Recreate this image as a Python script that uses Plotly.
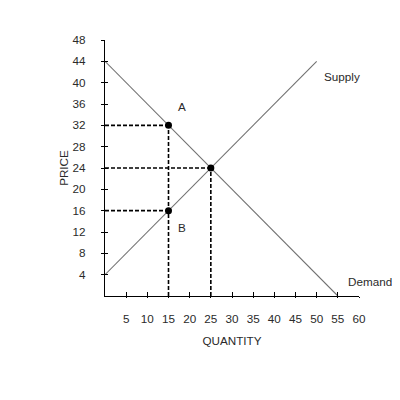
import plotly.graph_objects as go

# Data
supply_q = [0, 50]
supply_p = [4, 44]
demand_q = [0, 55]
demand_p = [44, 0]
points_q = [15, 25, 15]
points_p = [32, 24, 16]
x_ticks = [5, 10, 15, 20, 25, 30, 35, 40, 45, 50, 55, 60]
y_ticks = [4, 8, 12, 16, 20, 24, 28, 32, 36, 40, 44, 48]

fig = go.Figure()
dash = dict(color="black", width=1.6, dash="4px,2px")
for q, p in zip(points_q, points_p):
    fig.add_trace(go.Scatter(x=[0, q], y=[p, p], mode="lines", line=dash, hoverinfo="skip"))
fig.add_trace(go.Scatter(x=[15, 15], y=[0, 32], mode="lines", line=dash, hoverinfo="skip"))
fig.add_trace(go.Scatter(x=[25, 25], y=[0, 24], mode="lines", line=dash, hoverinfo="skip"))

fig.add_trace(go.Scatter(x=supply_q, y=supply_p, mode="lines", line=dict(color="#707070", width=1.1)))
fig.add_trace(go.Scatter(x=demand_q, y=demand_p, mode="lines", line=dict(color="#707070", width=1.1)))
fig.add_trace(go.Scatter(x=points_q, y=points_p, mode="markers",
                         marker=dict(color="black", size=7)))

font = dict(family="Liberation Sans, Arial", size=11.7, color="#2a2a2a")
ann = [
    dict(x=56, y=41.1, text="Supply"),
    dict(x=62.6, y=2.8, text="Demand"),
    dict(x=18.2, y=35.5, text="A"),
    dict(x=18.2, y=12.9, text="B"),
]
for a in ann:
    fig.add_annotation(x=a["x"] / 60, y=a["y"] / 48, text=a["text"], showarrow=False,
                       font=font, xref="paper", yref="paper",
                       xanchor="center", yanchor="middle")

fig.update_layout(
    width=400, height=400,
    margin=dict(l=97, r=49, t=32, b=112),
    paper_bgcolor="white", plot_bgcolor="white",
    showlegend=False,
    font=font,
    xaxis=dict(range=[0, 60], tickvals=x_ticks, ticktext=[str(v) for v in x_ticks],
               showgrid=False, zeroline=False, showline=True, linecolor="black", linewidth=1.3,
               ticks="outside", ticklen=1, tickcolor="black", tickwidth=1.3,
               ticklabelstandoff=11,
               title=dict(text="QUANTITY", font=font, standoff=12)),
    yaxis=dict(range=[0, 48], tickvals=y_ticks, ticktext=[str(v) for v in y_ticks],
               showgrid=False, zeroline=False, showline=True, linecolor="black", linewidth=1.3,
               ticks="outside", ticklen=3, tickcolor="black", tickwidth=1.3,
               ticklabelstandoff=13,
               title=dict(text="PRICE", font=font, standoff=1)),
    xaxis2=dict(range=[0, 60], tickvals=x_ticks, showticklabels=False, overlaying="x",
                showgrid=False, zeroline=False, showline=False,
                ticks="inside", ticklen=4, tickcolor="black", tickwidth=1.3),
    yaxis2=dict(range=[0, 48], tickvals=y_ticks, showticklabels=False, overlaying="y",
                showgrid=False, zeroline=False, showline=False,
                ticks="inside", ticklen=3, tickcolor="black", tickwidth=1.3),
)
fig.add_trace(go.Scatter(x=[None], y=[None], xaxis="x2", yaxis="y2", hoverinfo="skip"))

fig.write_html("out.html")
